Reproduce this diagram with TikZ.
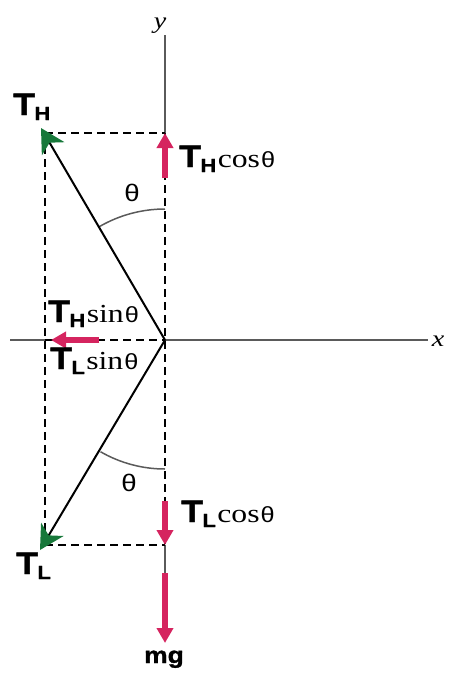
\documentclass[tikz,border=0pt]{standalone}
\usepackage{fontspec}
\usepackage{tikz}
\usetikzlibrary{arrows.meta, calc}
\newfontfamily\lblsans[FakeStretch=1.15, BoldFeatures={FakeBold=1.3}]{Liberation Sans}
\newfontfamily\lblserif[FakeStretch=1.22]{Liberation Serif}
\definecolor{Force_Pink}{HTML}{D5245F}
\definecolor{Tension_Green}{HTML}{17783A}
\definecolor{Axis_Gray}{HTML}{5A5A5A}
\newcommand{\Tsub}[1]{{\fontsize{31}{31}\selectfont\lblsans\bfseries T}\kern-0.5pt\raisebox{-5pt}{\fontsize{19}{19}\selectfont\lblsans\bfseries #1}}
\newcommand{\trig}[1]{\kern1.5pt{\fontsize{26}{26}\selectfont\lblserif #1}\kern1pt{\fontsize{22}{22}\selectfont\lblsans θ}}

\begin{document}
\begin{tikzpicture}[x=1pt, y=-1pt, >=Stealth,
    axis/.style={draw=Axis_Gray, line width=1.5pt},
    guide/.style={draw=black, line width=1.9pt, dash pattern=on 8pt off 5pt},
    pull/.style={draw=black, line width=2pt, -{Stealth[length=24pt, width=26pt, inset=7pt, color=Tension_Green, fill=Tension_Green]}},
    comp/.style={draw=Force_Pink, line width=6.5pt, -{Triangle[length=15pt, width=16pt]}},
    lbl/.style={anchor=base west, inner sep=0pt}]
    \useasboundingbox (0,0) rectangle (457,673);

    % points
    \coordinate (O) at (165,340);
    \coordinate (TH) at (41,128);
    \coordinate (TL) at (40,550);
    \coordinate (BH) at (45,133);
    \coordinate (BL) at (45,545);
    \coordinate (Hy) at (165,133);
    \coordinate (Ly) at (165,545);
    \coordinate (Lx) at (45,340);
    \coordinate (ytop) at (165,35);
    \coordinate (xl) at (10,340);
    \coordinate (xr) at (428,340);
    \coordinate (mgtop) at (165,573);

    % axes
    \draw[axis] (ytop) -- (Hy);
    \draw[axis] (Ly) -- (mgtop);
    \draw[axis] (xl) -- (Lx);
    \draw[axis] (O) -- (xr);
    \node (ylbl) [anchor=base, inner sep=0pt] at (160,28) {\fontsize{23}{23}\selectfont\lblserif\itshape y};
    \node (xlbl) [anchor=base, inner sep=0pt] at (438,346) {\fontsize{23}{23}\selectfont\lblserif\itshape x};

    % dashed box
    \draw[guide] (BH) -- (Hy);
    \draw[guide] (BH) -- (BL);
    \draw[guide] (BL) -- (Ly);
    \draw[guide] (Hy) -- (Ly);
    \draw[guide] (Lx) -- (O);

    % angles
    \draw[Axis_Gray, line width=1.5pt] ($(O)+(0,-131)$) arc[start angle=90, end angle=120, radius=131pt];
    \draw[Axis_Gray, line width=1.5pt] ($(O)+(0,129)$) arc[start angle=270, end angle=240, radius=129pt];
    \node (thu) [anchor=center, inner sep=0pt] at (132,193) {\fontsize{24}{24}\selectfont\lblsans θ};
    \node (thl) [anchor=center, inner sep=0pt] at (129,483) {\fontsize{24}{24}\selectfont\lblsans θ};

    % tensions
    \draw[pull] (O) -- (TH);
    \draw[pull] (O) -- (TL);

    % components
    \coordinate (cosH) at (165,178);
    \coordinate (cosL) at (165,501);
    \coordinate (sinH) at (99,340);
    \coordinate (sinHtip) at (51,340);
    \coordinate (mgtip) at (165,643);
    \draw[comp] (cosH) -- (Hy);
    \draw[comp] (cosL) -- (Ly);
    \draw[comp] (sinH) -- (sinHtip);
    \draw[comp] (mgtop) -- (mgtip);

    % labels
    \node (thlbl) [lbl] at (13,115) {\Tsub{H}};
    \node (tllbl) [lbl] at (16,574) {\Tsub{L}};
    \node (thcos) [lbl] at (179,167) {\Tsub{H}\trig{cos}};
    \node (tlcos) [lbl] at (181,522) {\Tsub{L}\trig{cos}};
    \node (thsin) [lbl] at (48,322) {\Tsub{H}\trig{sin}};
    \node (tlsin) [lbl] at (50,369) {\Tsub{L}\trig{sin}};
    \node (mglbl) [anchor=base, inner sep=0pt] at (164,663) {\fontsize{23}{23}\selectfont\lblsans\bfseries mg};
\end{tikzpicture}
\end{document}
